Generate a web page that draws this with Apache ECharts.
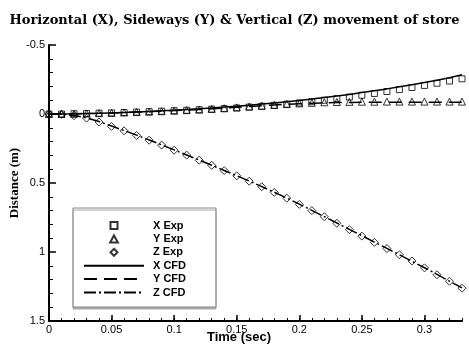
<!DOCTYPE html>
<html>
<head>
<meta charset="utf-8">
<script src="https://cdn.jsdelivr.net/npm/echarts@6/dist/echarts.min.js"></script>
<style>html,body{margin:0;padding:0;background:#fff}#c{width:469px;height:345px}</style>
</head>
<body>
<div id="c"></div>
<script>
// Time (sec)
var time = [0,0.01,0.02,0.03,0.04,0.05,0.06,0.07,0.08,0.09,0.10,0.11,0.12,0.13,0.14,0.15,0.16,0.17,0.18,0.19,0.20,0.21,0.22,0.23,0.24,0.25,0.26,0.27,0.28,0.29,0.30,0.31,0.32,0.33];
// Experimental values (m)
var xExp = [0,0,-0.002,-0.004,-0.006,-0.008,-0.011,-0.014,-0.017,-0.020,-0.024,-0.027,-0.031,-0.035,-0.039,-0.044,-0.050,-0.056,-0.063,-0.071,-0.080,-0.089,-0.100,-0.111,-0.123,-0.136,-0.149,-0.163,-0.177,-0.192,-0.207,-0.223,-0.239,-0.255];
var yExp = [0,0,-0.002,-0.004,-0.006,-0.008,-0.011,-0.014,-0.017,-0.020,-0.024,-0.028,-0.032,-0.037,-0.042,-0.048,-0.054,-0.060,-0.066,-0.072,-0.077,-0.081,-0.085,-0.087,-0.088,-0.089,-0.089,-0.090,-0.090,-0.090,-0.090,-0.090,-0.090,-0.090];
var zExp = [0,0.003,0.012,0.030,0.058,0.090,0.122,0.155,0.190,0.225,0.262,0.298,0.335,0.372,0.410,0.448,0.487,0.527,0.568,0.610,0.655,0.700,0.745,0.792,0.838,0.885,0.930,0.975,1.020,1.065,1.115,1.165,1.212,1.262];
// CFD values (m)
var xCfd = [0,0,-0.001,-0.003,-0.005,-0.008,-0.011,-0.015,-0.019,-0.023,-0.028,-0.033,-0.038,-0.044,-0.050,-0.057,-0.064,-0.072,-0.080,-0.089,-0.098,-0.108,-0.119,-0.130,-0.142,-0.155,-0.168,-0.182,-0.197,-0.212,-0.228,-0.245,-0.263,-0.285];
var yCfd = [0,0,-0.001,-0.003,-0.005,-0.008,-0.011,-0.014,-0.017,-0.021,-0.025,-0.029,-0.033,-0.038,-0.043,-0.048,-0.054,-0.060,-0.065,-0.070,-0.074,-0.078,-0.081,-0.083,-0.084,-0.085,-0.085,-0.085,-0.085,-0.085,-0.085,-0.085,-0.085,-0.085];
var zCfd = [0,0.002,0.010,0.028,0.055,0.087,0.120,0.153,0.188,0.224,0.260,0.297,0.334,0.371,0.409,0.447,0.486,0.526,0.567,0.609,0.653,0.698,0.744,0.790,0.836,0.882,0.928,0.974,1.020,1.067,1.114,1.162,1.211,1.260];
// Tick labels
var xMajorTicks = [0,0.05,0.1,0.15,0.2,0.25,0.3];

function pairs(vals){ return time.map(function(t,i){ return [t, vals[i]]; }); }

var chart = echarts.init(document.getElementById('c'), null, {renderer:'canvas'});
function sc(name, symbol, size, vals){
  return {type:'scatter', name:name, symbol:symbol, symbolSize:size, data:pairs(vals),
    itemStyle:{color:'rgba(0,0,0,0)', borderColor:'#000', borderWidth:1}, z:3};
}
function ln(name, type, vals){
  return {type:'line', name:name, showSymbol:false, symbol:'none',
    data:pairs(vals), lineStyle:{color:'#000', width:1.5, type:type}, itemStyle:{color:'#000'}, z:2};
}
var noDot = {color:'rgba(0,0,0,0)', borderColor:'rgba(0,0,0,0)', borderWidth:0};
chart.setOption({
  animation:false,
  title:{text:'Horizontal (X), Sideways (Y) & Vertical (Z) movement of store', left:'center', top:9,
    textStyle:{fontFamily:'DejaVu Serif', fontWeight:'bold', fontSize:13, color:'#000'}},
  grid:{left:49, right:7, top:45, bottom:24, containLabel:false, outerBoundsMode:'none'},
  legend:{
    orient:'vertical', left:73, top:208,
    padding:[11,30,8,10], itemGap:0.4, itemWidth:60, itemHeight:7,
    symbolKeepAspect:true,
    backgroundColor:'#fff', borderColor:'#888', borderWidth:1,
    shadowColor:'#aaa', shadowOffsetX:0, shadowOffsetY:2, shadowBlur:0,
    lineStyle:{width:2},
    textStyle:{fontFamily:'Liberation Sans', fontWeight:'bold', fontSize:11, color:'#000', lineHeight:13, padding:[0,0,0,4]},
    data:[
      {name:'X Exp', icon:'path://M0,0L10,0L10,10L0,10Z'},
      {name:'Y Exp', icon:'path://M5,0L10,9L0,9Z'},
      {name:'Z Exp', icon:'path://M5,0L10,5L5,10L0,5Z'},
      {name:'X CFD', itemStyle:noDot},
      {name:'Y CFD', itemStyle:noDot},
      {name:'Z CFD', itemStyle:noDot}
    ]
  },
  xAxis:[{
    type:'value', min:0, max:0.33, interval:0.01,
    axisLine:{show:true, onZero:false, lineStyle:{color:'#000', width:2}},
    axisTick:{show:true, inside:true, length:3, lineStyle:{color:'#000', width:1}},
    axisLabel:{show:false}, splitLine:{show:false}
  },{
    type:'value', min:0, max:0.33, interval:0.05, position:'bottom',
    axisLine:{show:false, onZero:false},
    axisTick:{show:true, inside:true, length:6, customValues:xMajorTicks, lineStyle:{color:'#000', width:1.5}},
    axisLabel:{show:true, customValues:xMajorTicks, margin:3, fontFamily:'Liberation Sans', fontSize:11, color:'#000'},
    splitLine:{show:false},
    name:'Time (sec)', nameLocation:'middle', nameGap:10, nameMoveOverlap:false,
    nameTextStyle:{fontFamily:'Liberation Sans', fontWeight:'bold', fontSize:13, color:'#000', padding:[0,33,0,0]}
  }],
  yAxis:{
    type:'value', inverse:true, min:-0.5, max:1.5, interval:0.5,
    axisLine:{show:true, onZero:false, lineStyle:{color:'#000', width:2}},
    axisTick:{show:true, inside:true, length:7, lineStyle:{color:'#000', width:1.5}},
    minorTick:{show:true, splitNumber:5, length:4, lineStyle:{color:'#000', width:1}},
    axisLabel:{margin:4, fontFamily:'Liberation Sans', fontSize:11, color:'#000'},
    splitLine:{show:false},
    name:'Distance (m)', nameLocation:'middle', nameGap:28, nameMoveOverlap:false,
    nameTextStyle:{fontFamily:'Liberation Serif', fontWeight:'bold', fontSize:13, color:'#000'}
  },
  series:[
    sc('X Exp','rect',6,xExp),
    sc('Y Exp','triangle',7,yExp),
    sc('Z Exp','diamond',8,zExp),
    ln('X CFD','solid',xCfd),
    ln('Y CFD',[13,7],yCfd),
    ln('Z CFD',[12,3,2,3],zCfd)
  ]
});
</script>
</body>
</html>
